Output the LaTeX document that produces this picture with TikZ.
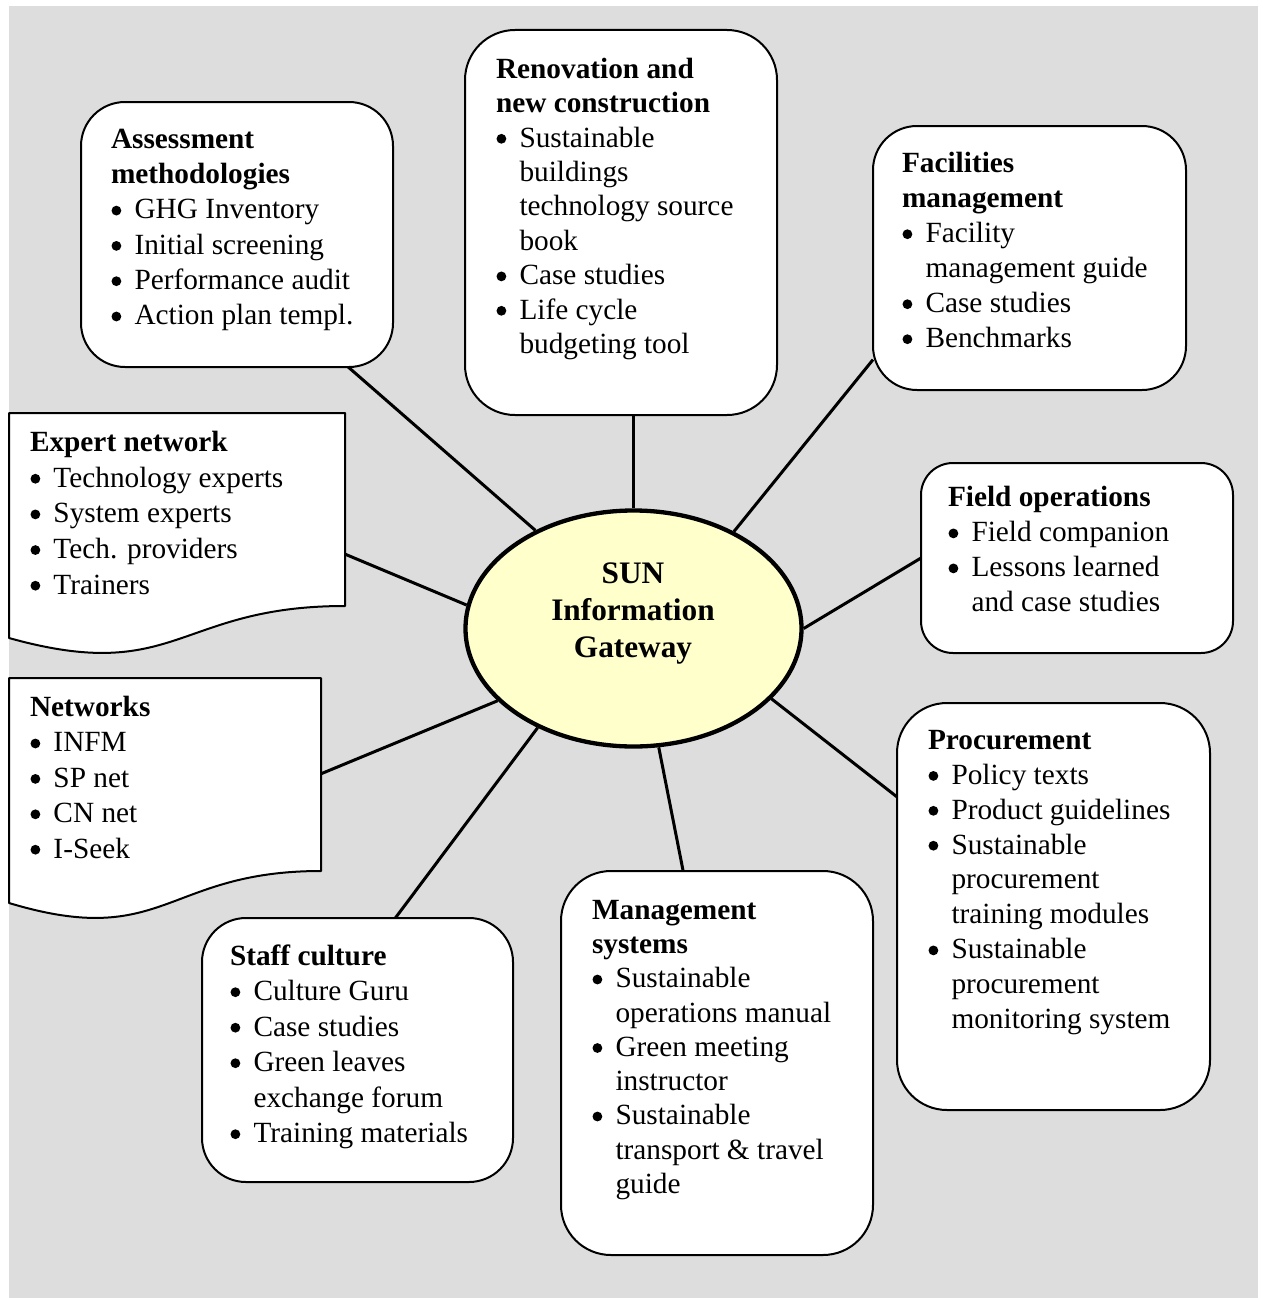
\documentclass[tikz,border=0pt]{standalone}
\usepackage{fontspec}
\setmainfont{Liberation Serif}
\usetikzlibrary{shapes.geometric}
\pgfdeclarelayer{bg}
\pgfsetlayers{bg,main}
\definecolor{bggray}{RGB}{221,221,221}
\definecolor{sunfill}{RGB}{255,255,204}
\newcommand\bdot{\tikz[baseline=0pt]\fill (0pt,8.3pt) circle[radius=4.9pt];}
\newcommand\bitem[1]{\makebox[23.5pt][l]{\hspace{0.5pt}\bdot}#1}
\newcommand\cont[1]{\hspace*{23.5pt}#1}
\newcommand\boxtext[2]{\parbox[t]{330pt}{\raggedright\fontsize{29.3}{#1}\selectfont #2}}
\begin{document}
\begin{tikzpicture}[x=1pt,y=-1pt,
  rbox/.style={draw, line width=2pt, fill=white, rounded corners=#1pt, inner sep=0pt, outer sep=0pt},
  docarea/.style={inner sep=0pt, outer sep=0pt},
  docline/.style={draw, line width=2pt, fill=white, line join=round},
  conn/.style={line width=3pt},
  txt/.style={inner sep=0pt, outer sep=0pt, anchor=base west},
  hub/.style={ellipse, draw, line width=4.3pt, fill=sunfill, minimum width=336pt, minimum height=236pt, inner sep=0pt}
]
\useasboundingbox (0,0) rectangle (1263,1298);

% central ellipse
\node[hub] (sun) at (633.5,628.5) {};
\node[inner sep=0pt, anchor=base] (suntxt) at (633,583)
  {\parbox[t]{300pt}{\centering\fontsize{31.3}{37}\selectfont\bfseries SUN\\Information\\Gateway}};

% rounded boxes
\node[rbox=44, minimum width=312pt, minimum height=265pt] (assess) at (237,234.5) {};
\node[rbox=50, minimum width=312pt, minimum height=385pt] (ren) at (621,222.5) {};
\node[rbox=44, minimum width=313pt, minimum height=264pt] (fac) at (1029.5,258) {};
\node[rbox=32, minimum width=312pt, minimum height=190pt] (field) at (1077,558) {};
\node[rbox=50, minimum width=313pt, minimum height=407pt] (proc) at (1053.5,906.5) {};
\node[rbox=50, minimum width=312pt, minimum height=384pt] (mgmt) at (717,1063) {};
\node[rbox=44, minimum width=311pt, minimum height=264pt] (staff) at (357.5,1050) {};

% document shapes
\node[docarea, minimum width=336pt, minimum height=241pt] (expert) at (177,533.5) {};
\path[docline] (expert.north west) -- (expert.north east) -- ([yshift=-193pt]expert.north east)
  .. controls ([xshift=-168pt,yshift=-193pt]expert.north east) and ([xshift=-168pt,yshift=-272pt]expert.north east)
  .. ([yshift=-225pt]expert.north west) -- cycle;
\node[docarea, minimum width=312pt, minimum height=241pt] (net) at (165,798.5) {};
\path[docline] (net.north west) -- (net.north east) -- ([yshift=-193pt]net.north east)
  .. controls ([xshift=-156pt,yshift=-193pt]net.north east) and ([xshift=-156pt,yshift=-272pt]net.north east)
  .. ([yshift=-225pt]net.north west) -- cycle;

% texts
\node[txt] (assesst) at (111,148.3) {\boxtext{35.3}{\textbf{Assessment}\\\textbf{methodologies}\\
  \bitem{GHG Inventory}\\\bitem{Initial screening}\\\bitem{Performance audit}\\\bitem{Action plan templ.}}};
\node[txt] (rent) at (496,78.3) {\boxtext{34.4}{\textbf{Renovation and}\\\textbf{new construction}\\
  \bitem{Sustainable}\\\cont{buildings}\\\cont{technology source}\\\cont{book}\\
  \bitem{Case studies}\\\bitem{Life cycle}\\\cont{budgeting tool}}};
\node[txt] (fact) at (902,172.5) {\boxtext{35}{\textbf{Facilities}\\\textbf{management}\\
  \bitem{Facility}\\\cont{management guide}\\\bitem{Case studies}\\\bitem{Benchmarks}}};
\node[txt] (fieldt) at (948,506.7) {\boxtext{35}{\textbf{Field operations}\\
  \bitem{Field companion}\\\bitem{Lessons learned}\\\cont{and case studies}}};
\node[txt] (proct) at (928,749.3) {\boxtext{34.9}{\textbf{Procurement}\\
  \bitem{Policy texts}\\\bitem{Product guidelines}\\\bitem{Sustainable}\\\cont{procurement}\\
  \cont{training modules}\\\bitem{Sustainable}\\\cont{procurement}\\\cont{monitoring system}}};
\node[txt] (mgmtt) at (592,919.3) {\boxtext{34.25}{\textbf{Management}\\\textbf{systems}\\
  \bitem{Sustainable}\\\cont{operations manual}\\\bitem{Green meeting}\\\cont{instructor}\\
  \bitem{Sustainable}\\\cont{transport \& travel}\\\cont{guide}}};
\node[txt] (stafft) at (230,965) {\boxtext{35.5}{\textbf{Staff culture}\\
  \bitem{Culture Guru}\\\bitem{Case studies}\\\bitem{Green leaves}\\\cont{exchange forum}\\
  \bitem{Training materials}}};
\node[txt] (expertt) at (30,451.4) {\boxtext{35.65}{\textbf{Expert network}\\
  \bitem{Technology experts}\\\bitem{System experts}\\\bitem{Tech. providers}\\\bitem{Trainers}}};
\node[txt] (nett) at (30,716.4) {\boxtext{35.4}{\textbf{Networks}\\
  \bitem{INFM}\\\bitem{SP net}\\\bitem{CN net}\\\bitem{I-Seek}}};

% background and connectors
\begin{pgfonlayer}{bg}
\fill[bggray] (9,6) rectangle (1258,1298);
\draw[conn] (sun.135.6) -- (assess.-50);
\draw[conn] (sun.north) -- (sun.north |- ren.south);
\draw[conn] (sun.44.7) -- (fac.-147.2);
\draw[conn] (sun.east) -- (field.west);
\draw[conn] (sun.-27.3) -- (proc.145);
\draw[conn] (sun.-78.4) -- (mgmt.100.9);
\draw[conn] (sun.-134.4) -- (staff.74.95);
\draw[conn] (sun.-152.9) -- (net.9.28);
\draw[conn] (sun.172) -- (expert.-7.96);
\end{pgfonlayer}
\end{tikzpicture}
\end{document}
